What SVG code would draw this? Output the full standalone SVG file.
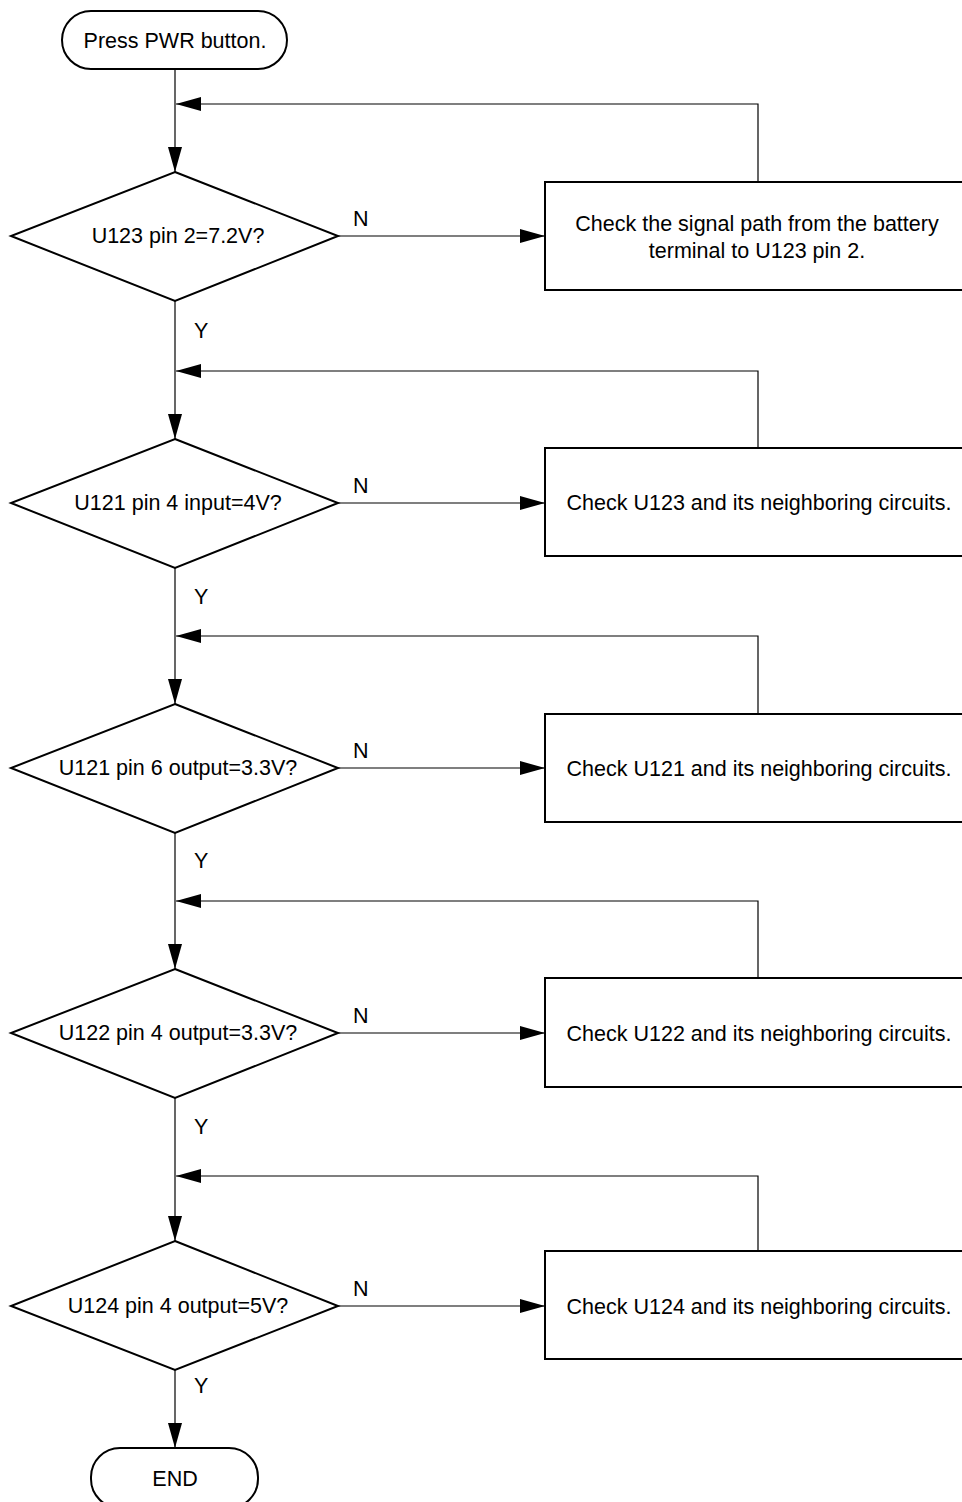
<svg xmlns="http://www.w3.org/2000/svg" width="962" height="1502" viewBox="0 0 962 1502">
<style>
.shape{fill:#fff;stroke:#000;stroke-width:2}
.conn{fill:none;stroke:#000;stroke-width:1.2}
text{font-family:"Liberation Sans",Arial,sans-serif;font-size:21.5px;fill:#000}
.mid{text-anchor:middle}
</style>
<defs>
<marker id="arr" markerUnits="userSpaceOnUse" markerWidth="26" markerHeight="16" viewBox="0 0 26 16" refX="25" refY="8" orient="auto">
<path d="M0,1 L25,8 L0,15 Z" fill="#000"/>
</marker>
</defs>
<rect width="962" height="1502" fill="#fff"/>
<g id="connectors">
<line class="conn" x1="175" y1="69" x2="175" y2="172" marker-end="url(#arr)"/>
<line class="conn" x1="175" y1="301" x2="175" y2="439" marker-end="url(#arr)"/>
<line class="conn" x1="175" y1="568" x2="175" y2="704" marker-end="url(#arr)"/>
<line class="conn" x1="175" y1="833" x2="175" y2="969" marker-end="url(#arr)"/>
<line class="conn" x1="175" y1="1098" x2="175" y2="1241" marker-end="url(#arr)"/>
<line class="conn" x1="175" y1="1370" x2="175" y2="1448" marker-end="url(#arr)"/>
<polyline class="conn" points="758,182 758,104 176,104" marker-end="url(#arr)"/>
<polyline class="conn" points="758,448 758,371 176,371" marker-end="url(#arr)"/>
<polyline class="conn" points="758,714 758,636 176,636" marker-end="url(#arr)"/>
<polyline class="conn" points="758,978 758,901 176,901" marker-end="url(#arr)"/>
<polyline class="conn" points="758,1251 758,1176 176,1176" marker-end="url(#arr)"/>
<line class="conn" x1="338" y1="236" x2="545" y2="236" marker-end="url(#arr)"/>
<line class="conn" x1="338" y1="503" x2="545" y2="503" marker-end="url(#arr)"/>
<line class="conn" x1="338" y1="768" x2="545" y2="768" marker-end="url(#arr)"/>
<line class="conn" x1="338" y1="1033" x2="545" y2="1033" marker-end="url(#arr)"/>
<line class="conn" x1="338" y1="1306" x2="545" y2="1306" marker-end="url(#arr)"/>
<text x="353" y="226">N</text>
<text x="353" y="493">N</text>
<text x="353" y="758">N</text>
<text x="353" y="1023">N</text>
<text x="353" y="1296">N</text>
<text x="194" y="338">Y</text>
<text x="194" y="604">Y</text>
<text x="194" y="868">Y</text>
<text x="194" y="1134">Y</text>
<text x="194" y="1393">Y</text>
</g>
<g id="start">
<rect class="shape" x="62" y="11" width="225" height="58" rx="29" ry="29"/>
<text class="mid" x="175" y="48">Press PWR button.</text>
</g>
<g id="d1">
<polygon class="shape" points="175,172 338,236 175,301 11,236"/>
<text class="mid" x="178" y="243">U123 pin 2=7.2V?</text>
</g>
<g id="b1">
<rect class="shape" x="545" y="182" width="430" height="108"/>
<text class="mid" x="757" y="231">Check the signal path from the battery</text>
<text class="mid" x="757" y="258">terminal to U123 pin 2.</text>
</g>
<g id="d2">
<polygon class="shape" points="175,439 338,503 175,568 11,503"/>
<text class="mid" x="178" y="510">U121 pin 4 input=4V?</text>
</g>
<g id="b2">
<rect class="shape" x="545" y="448" width="430" height="108"/>
<text class="mid" x="759" y="510">Check U123 and its neighboring circuits.</text>
</g>
<g id="d3">
<polygon class="shape" points="175,704 338,768 175,833 11,768"/>
<text class="mid" x="178" y="775">U121 pin 6 output=3.3V?</text>
</g>
<g id="b3">
<rect class="shape" x="545" y="714" width="430" height="108"/>
<text class="mid" x="759" y="776">Check U121 and its neighboring circuits.</text>
</g>
<g id="d4">
<polygon class="shape" points="175,969 338,1033 175,1098 11,1033"/>
<text class="mid" x="178" y="1040">U122 pin 4 output=3.3V?</text>
</g>
<g id="b4">
<rect class="shape" x="545" y="978" width="430" height="109"/>
<text class="mid" x="759" y="1041">Check U122 and its neighboring circuits.</text>
</g>
<g id="d5">
<polygon class="shape" points="175,1241 338,1306 175,1370 11,1306"/>
<text class="mid" x="178" y="1313">U124 pin 4 output=5V?</text>
</g>
<g id="b5">
<rect class="shape" x="545" y="1251" width="430" height="108"/>
<text class="mid" x="759" y="1314">Check U124 and its neighboring circuits.</text>
</g>
<g id="end">
<rect class="shape" x="91" y="1448" width="167" height="60" rx="29" ry="29"/>
<text class="mid" x="175" y="1486">END</text>
</g>
</svg>
